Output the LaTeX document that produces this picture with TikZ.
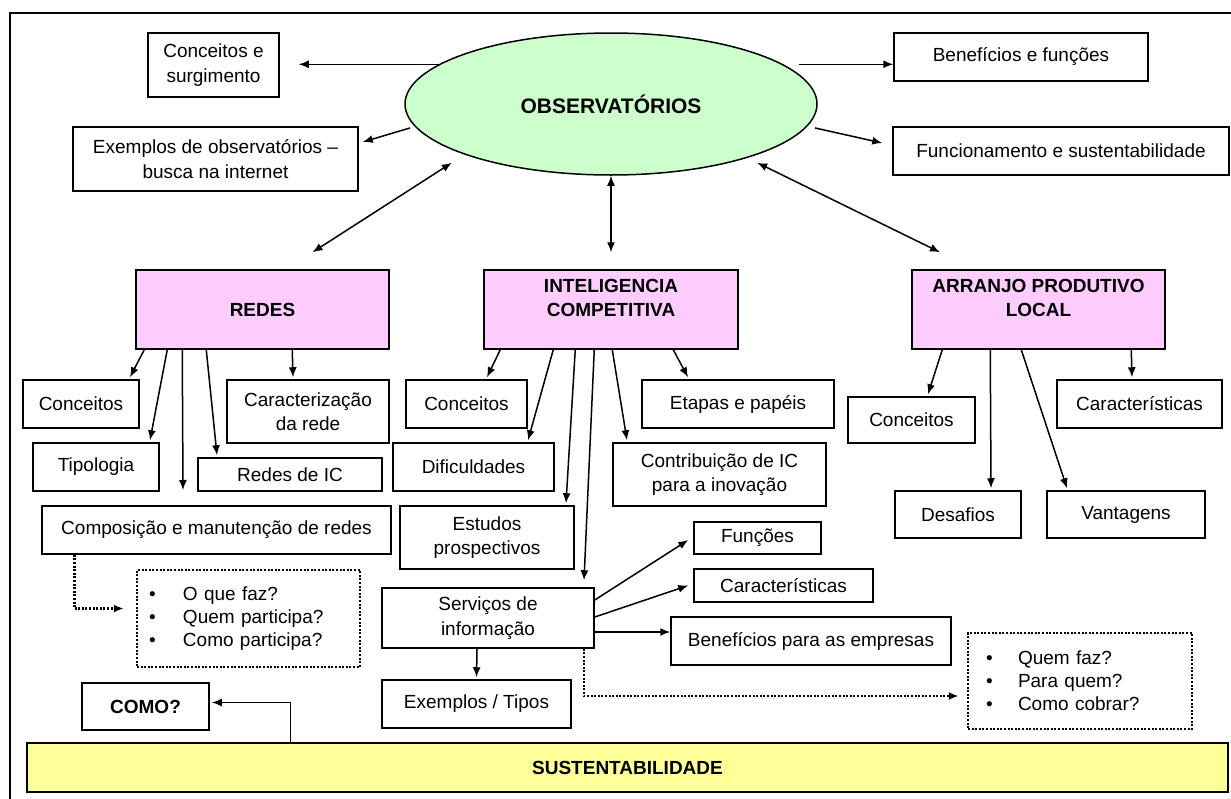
\documentclass[tikz,border=0pt]{standalone}
\usepackage{fontspec}
\setmainfont{Liberation Sans}
\usetikzlibrary{shapes.geometric,arrows.meta}
\definecolor{obsgreen}{RGB}{204,255,204}
\definecolor{temapink}{RGB}{255,204,255}
\definecolor{sustyellow}{RGB}{255,255,153}

\begin{document}
\begin{tikzpicture}[x=1pt,y=-1pt,
    box/.style={draw, line width=1.5pt, align=center, inner sep=0pt, font=\fontsize{19}{24.5}\selectfont},
    tema/.style={box, fill=temapink, font=\fontsize{19}{24}\selectfont\bfseries},
    lista/.style={draw, line width=2.5pt, dash pattern=on 2pt off 1.6pt, align=left, inner ysep=0pt, font=\fontsize{19}{23}\selectfont},
    sz/.style 2 args={minimum width=#1, minimum height=#2},
    seta/.style={line width=1.5pt, -{Latex[length=10pt,width=8pt]}},
    dupla/.style={line width=1.5pt, {Latex[length=10pt,width=8pt]}-{Latex[length=10pt,width=8pt]}},
    pontos/.style={line width=2.5pt, dash pattern=on 2pt off 1.6pt, -{Latex[length=10pt,width=8pt]}}]
    \useasboundingbox (0,0) rectangle (1231,798);
    \draw[line width=1.5pt] (10,810) -- (10,13) -- (1245,13);

    \node[ellipse, draw, line width=1.5pt, fill=obsgreen, sz={412pt}{142pt}, inner sep=0pt,
          font=\fontsize{21}{24}\selectfont\bfseries] (obs) at (611,104) {OBSERVATÓRIOS};
    \node[box, sz={131pt}{64pt}] (concsurg) at (213.5,65) {Conceitos e\\surgimento};
    \node[box, sz={254pt}{48pt}] (benef) at (1021,57) {Benefícios e funções};
    \node[box, sz={336pt}{48pt}] (funcsust) at (1061,151) {Funcionamento e sustentabilidade};
    \node[box, sz={285pt}{64pt}] (exobs) at (215.5,159) {Exemplos de observatórios –\\busca na internet};

    \node[tema, sz={253pt}{79pt}] (redes) at (262.5,309.5) {REDES};
    \node[tema, sz={254pt}{79pt}] (ic) at (611,309.5) {INTELIGENCIA\\COMPETITIVA\\ \mbox{}};
    \node[tema, sz={253pt}{79pt}] (apl) at (1038.5,309.5) {ARRANJO PRODUTIVO\\LOCAL\\ \mbox{}};

    \node[box, sz={116pt}{48pt}] (rconc) at (81,404) {Conceitos};
    \node[box, sz={126pt}{48pt}] (tipo) at (96,467) {Tipologia};
    \node[box, sz={162pt}{63pt}] (carac) at (308,411.5) {Caracterização\\da rede};
    \node[box, sz={184pt}{33pt}] (redesic) at (290,474.5) {Redes de IC};
    \node[box, sz={349pt}{48pt}] (compo) at (216.5,530) {Composição e manutenção de redes};
    \coordinate (rlivre) at (183,490);
    \node[lista, sz={223pt}{97pt}, text width=199pt, inner xsep=12pt] (faz) at (248.5,618.5)
        {\makebox[34pt][l]{\textbullet}O que faz?\\\makebox[34pt][l]{\textbullet}Quem participa?\\\makebox[34pt][l]{\textbullet}Como participa?};

    \node[box, sz={121pt}{48pt}] (iconc) at (466.5,404) {Conceitos};
    \node[box, sz={161pt}{48pt}] (dific) at (473.5,467) {Dificuldades};
    \node[box, sz={174pt}{63pt}] (estud) at (487,537.5) {Estudos\\prospectivos};
    \node[box, sz={192pt}{48pt}] (etapas) at (738,404) {Etapas e papéis};
    \node[box, sz={213pt}{63pt}] (contrib) at (719.5,474.5) {Contribuição de IC\\para a inovação};
    \node[box, sz={212pt}{60pt}] (serv) at (488,618) {Serviços de\\informação};
    \node[box, sz={189pt}{48pt}] (exti) at (476.5,704) {Exemplos / Tipos};
    \node[box, sz={127pt}{32pt}] (funcoes) at (757.5,538) {Funções};
    \node[box, sz={179pt}{33pt}] (caracic) at (783.5,585.5) {Características};
    \node[box, sz={280pt}{48pt}] (benemp) at (811,641) {Benefícios para as empresas};
    \node[lista, sz={224pt}{96pt}, text width=188pt, inner xsep=18pt] (quem) at (1080,681)
        {\makebox[32pt][l]{\textbullet}Quem faz?\\\makebox[32pt][l]{\textbullet}Para quem?\\\makebox[32pt][l]{\textbullet}Como cobrar?};

    \node[box, sz={127pt}{46pt}] (aconc) at (911.5,420) {Conceitos};
    \node[box, sz={165pt}{48pt}] (acarac) at (1139.5,404) {Características};
    \node[box, sz={126pt}{47pt}] (desaf) at (958,514.5) {Desafios};
    \node[box, sz={158pt}{47pt}] (vant) at (1126,514.5) {Vantagens};

    \node[box, fill=sustyellow, font=\fontsize{19}{24}\selectfont\bfseries, sz={1201pt}{49pt}] (sust) at (627.5,767.5) {SUSTENTABILIDADE};
    \node[box, font=\fontsize{19}{24}\selectfont\bfseries, sz={127pt}{47pt}] (como) at (145.5,706.5) {COMO?};

    \draw[seta] (obs.167) -- ([xshift=19pt]obs.167 -| concsurg.east);
    \draw[seta] ([xshift=16pt]obs.13) -- (obs.13 -| benef.west);
    \draw[seta] ([xshift=9pt]obs.-7) -- ([xshift=-10pt,yshift=8pt]funcsust.west);
    \draw[seta] ([xshift=-6pt]obs.187) -- ([xshift=4pt,yshift=17pt]exobs.east);
    \draw[dupla] ([xshift=50pt,yshift=17pt]redes.north) -- ([shift={(-13pt,-8pt)}]obs.south west);
    \draw[dupla] (obs.south) -- ([yshift=17pt]ic.north);
    \draw[dupla] ([yshift=-8pt]obs.south east) -- ([shift={(-98.5pt,17pt)}]apl.north);

    \draw[seta] ([xshift=9pt]redes.south west) -- ([xshift=49pt,yshift=2pt]rconc.north);
    \draw[seta] ([xshift=32pt]redes.south west) -- ([xshift=54pt,yshift=2pt]tipo.north);
    \draw[seta] ([xshift=47pt]redes.south west) -- (rlivre);
    \draw[seta] ([xshift=71pt]redes.south west) -- ([xshift=-73pt,yshift=2pt]redesic.north);
    \draw[seta] ([xshift=157pt]redes.south west) -- ([xshift=-15pt,yshift=2pt]carac.north);
    \draw[pontos] ([xshift=33pt]compo.south west) |- ([xshift=-12pt,yshift=10pt]faz.west);
    \draw[seta] ([xshift=264pt]sust.north west) |- ([xshift=2pt,yshift=4pt]como.east);

    \draw[seta] ([xshift=17pt]ic.south west) -- ([xshift=20.5pt,yshift=2pt]iconc.north);
    \draw[seta] ([xshift=70pt]ic.south west) -- ([xshift=54.5pt,yshift=2pt]dific.north);
    \draw[seta] ([xshift=92pt]ic.south west) -- ([xshift=79pt,yshift=2pt]estud.north);
    \draw[seta] ([xshift=111pt]ic.south west) -- ([xshift=96pt,yshift=7pt]serv.north);
    \draw[seta] ([xshift=129pt]ic.south west) -- ([xshift=-92.5pt,yshift=2pt]contrib.north);
    \draw[seta] ([xshift=190pt]ic.south west) -- ([xshift=-50pt,yshift=2pt]etapas.north);

    \draw[seta] ([yshift=18pt]serv.east) -- ([xshift=-5pt,yshift=-2pt]funcoes.west);
    \draw[seta] ([yshift=1pt]serv.east) -- ([xshift=-5pt]caracic.west);
    \draw[seta] ([yshift=-14pt]serv.east) -- ([yshift=-14pt]serv.east -| benemp.west);
    \draw[seta] ([xshift=-11pt]serv.south) -- ([yshift=2pt]exti.north);
    \draw[pontos] ([xshift=-11pt]serv.south east) |- ([xshift=-8pt,yshift=-15pt]quem.west);

    \draw[seta] ([xshift=31pt]apl.south west) -- ([xshift=16.5pt,yshift=2pt]aconc.north);
    \draw[seta] ([xshift=79pt]apl.south west) -- ([xshift=33pt,yshift=2pt]desaf.north);
    \draw[seta] ([xshift=110pt]apl.south west) -- ([xshift=-59pt,yshift=2pt]vant.north);
    \draw[seta] ([xshift=220pt]apl.south west) -- ([xshift=-7.5pt,yshift=2pt]acarac.north);
\end{tikzpicture}
\end{document}
